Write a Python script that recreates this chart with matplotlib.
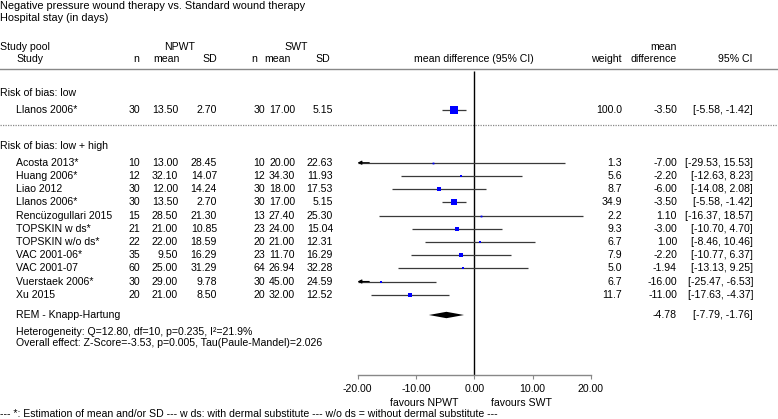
import matplotlib
matplotlib.use("Agg")
import matplotlib.pyplot as plt
import numpy as np

plt.rcParams['font.family'] = ['Liberation Sans', 'DejaVu Sans']

# ---------------- data ----------------
title1 = "Negative pressure wound therapy vs. Standard wound therapy"
title2 = "Hospital stay (in days)"

# Section 1: Risk of bias: low
s1_studies = ["Llanos 2006*"]
s1_n1 = [30]; s1_mean1 = [13.50]; s1_sd1 = [2.70]
s1_n2 = [30]; s1_mean2 = [17.00]; s1_sd2 = [5.15]
s1_weight = [100.0]
s1_md = [-3.50]; s1_lo = [-5.58]; s1_hi = [-1.42]

# Section 2: Risk of bias: low + high
studies = ["Acosta 2013*", "Huang 2006*", "Liao 2012", "Llanos 2006*",
           "Rencüzogullari 2015", "TOPSKIN w ds*", "TOPSKIN w/o ds*",
           "VAC 2001-06*", "VAC 2001-07", "Vuerstaek 2006*", "Xu 2015"]
n1 = [10, 12, 30, 30, 15, 21, 22, 35, 60, 30, 20]
mean1 = [13.00, 32.10, 12.00, 13.50, 28.50, 21.00, 22.00, 9.50, 25.00, 29.00, 21.00]
sd1 = [28.45, 14.07, 14.24, 2.70, 21.30, 10.85, 18.59, 16.29, 31.29, 9.78, 8.50]
n2 = [10, 12, 30, 30, 13, 23, 20, 23, 64, 30, 20]
mean2 = [20.00, 34.30, 18.00, 17.00, 27.40, 24.00, 21.00, 11.70, 26.94, 45.00, 32.00]
sd2 = [22.63, 11.93, 17.53, 5.15, 25.30, 15.04, 12.31, 16.29, 32.28, 24.59, 12.52]
weight = [1.3, 5.6, 8.7, 34.9, 2.2, 9.3, 6.7, 7.9, 5.0, 6.7, 11.7]
md = [-7.00, -2.20, -6.00, -3.50, 1.10, -3.00, 1.00, -2.20, -1.94, -16.00, -11.00]
lo = [-29.53, -12.63, -14.08, -5.58, -16.37, -10.70, -8.46, -10.77, -13.13, -25.47, -17.63]
hi = [15.53, 8.23, 2.08, -1.42, 18.57, 4.70, 10.46, 6.37, 9.25, -6.53, -4.37]

pooled_label = "REM - Knapp-Hartung"
pooled_md = -4.78; pooled_lo = -7.79; pooled_hi = -1.76
het_text = "Heterogeneity: Q=12.80, df=10, p=0.235, I\u00b2=21.9%"
overall_text = "Overall effect: Z-Score=-3.53, p=0.005, Tau(Paule-Mandel)=2.026"

xticks = [-20, -10, 0, 10, 20]
xticklabels = ["-20.00", "-10.00", "0.00", "10.00", "20.00"]
footnote = ("--- *: Estimation of mean and/or SD --- w ds: with dermal substitute "
            "--- w/o ds = without dermal substitute ---")

# ---------------- layout ----------------
W, H = 778, 419
fig = plt.figure(figsize=(W / 100, H / 100), dpi=100)
FS = 7.6

def T(x, y, s, ha='left', fs=FS, **kw):
    fig.text(x / W, 1 - y / H, s, ha=ha, va='center', fontsize=fs, **kw)

# full-figure overlay for lines
ov = fig.add_axes([0, 0, 1, 1])
ov.set_xlim(0, W); ov.set_ylim(H, 0); ov.axis('off')

# forest axes
X0, X1 = 357.6, 591.0
AXB = 375.0
ax = fig.add_axes([X0 / W, 1 - AXB / H, (X1 - X0) / W, AXB / H])
ax.set_xlim(-20, 20)
ax.set_ylim(AXB, 0)
for s in ['left', 'right', 'top']:
    ax.spines[s].set_visible(False)
ax.spines['bottom'].set_color('#888888')
ax.spines['bottom'].set_linewidth(1.0)
ax.set_yticks([])
ax.set_xticks(xticks)
ax.set_xticklabels(xticklabels, fontsize=FS)
ax.tick_params(axis='x', direction='out', length=3, color='#888888', pad=3.5)
ax.patch.set_alpha(0)

# titles
T(0, 6, title1, fs=7.9)
T(0, 18, title2, fs=7.9)

# headers
T(0, 47, "Study pool")
T(16, 59, "Study")
T(180, 47, "NPWT", ha='center')
T(296, 47, "SWT", ha='center')
col_r = [140, 178, 217, 265, 295, 333]
T(136, 59, "n", ha='center')
T(166, 59, "mean", ha='center')
T(210, 59, "SD", ha='center')
T(254, 59, "n", ha='center')
T(277, 59, "mean", ha='center')
T(323, 59, "SD", ha='center')
T(474, 59, "mean difference (95% CI)", ha='center')
T(622, 59, "weight", ha='right')
T(663, 47, "mean", ha='center')
T(677, 59, "difference", ha='right')
T(753, 59, "95% CI", ha='right')

ov.axhline(69, color='#888888', lw=1.0)
ov.axhline(125, color='#888888', lw=0.9, ls=(0, (1, 1)))

# zero line
ax.vlines(0, 71.5, AXB, color='black', lw=1.0)

ci_color = '#3a3a3a'

def draw_rows(names, a1, b1, c1, a2, b2, c2, w, m, l, h, ys, maxpx):
    wmax = max(w)
    for i, y in enumerate(ys):
        T(16, y, names[i])
        T(col_r[0], y, f"{a1[i]}", ha='right')
        T(col_r[1], y, f"{b1[i]:.2f}", ha='right')
        T(col_r[2], y, f"{c1[i]:.2f}", ha='right')
        T(col_r[3], y, f"{a2[i]}", ha='right')
        T(col_r[4], y, f"{b2[i]:.2f}", ha='right')
        T(col_r[5], y, f"{c2[i]:.2f}", ha='right')
        T(622, y, f"{w[i]:.1f}", ha='right')
        T(677, y, f"{m[i]:.2f}", ha='right')
        T(753, y, f"[{l[i]:.2f}, {h[i]:.2f}]", ha='right')
        lo_c = max(l[i], -20); hi_c = min(h[i], 20)
        ax.plot([lo_c, hi_c], [y, y], color=ci_color, lw=0.9, solid_capstyle='butt')
        if l[i] < -20:
            ax.annotate('', xy=(-20, y), xytext=(-18, y),
                        arrowprops=dict(arrowstyle='-|>', color='black', lw=0.8,
                                        mutation_scale=5.5, shrinkA=0, shrinkB=0))
        if h[i] > 20:
            ax.annotate('', xy=(20, y), xytext=(18, y),
                        arrowprops=dict(arrowstyle='-|>', color='black', lw=0.8,
                                        mutation_scale=5.5, shrinkA=0, shrinkB=0))
        px = max(maxpx * np.sqrt(w[i] / wmax), 1.8)
        ax.plot([m[i]], [y], marker='s', color='#0000ff', mec='#0000ff',
                markersize=px * 0.72, mew=0)

# section 1
T(0, 93, "Risk of bias: low")
draw_rows(s1_studies, s1_n1, s1_mean1, s1_sd1, s1_n2, s1_mean2, s1_sd2,
          s1_weight, s1_md, s1_lo, s1_hi, [110.0], 7.7)

# section 2
T(0, 146, "Risk of bias: low + high")
ys = [162.7 + 13.2 * i for i in range(len(studies))]
draw_rows(studies, n1, mean1, sd1, n2, mean2, sd2, weight, md, lo, hi, ys, 6.8)

# pooled
yp = 315
T(16, yp, pooled_label)
ax.fill([pooled_lo, pooled_md, pooled_hi, pooled_md], [yp, yp - 3.2, yp, yp + 3.2],
        color='black', lw=0)
T(677, yp, f"{pooled_md:.2f}", ha='right')
T(753, yp, f"[{pooled_lo:.2f}, {pooled_hi:.2f}]", ha='right')
T(16, 332, het_text)
T(16, 343, overall_text)

# favours labels
ax.text(-2.7, 403, "favours NPWT", ha='right', va='center', fontsize=FS, clip_on=False)
ax.text(2.8, 403, "favours SWT", ha='left', va='center', fontsize=FS, clip_on=False)

T(0, 414, footnote)

fig.savefig("out.png", dpi=100)
